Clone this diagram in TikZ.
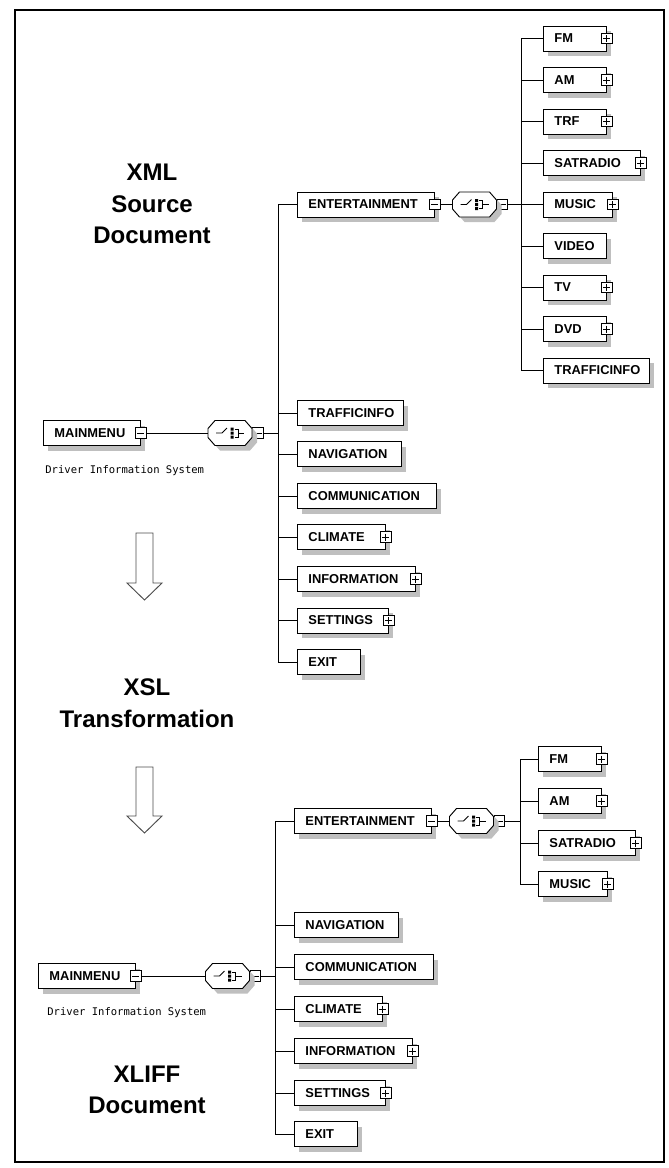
\documentclass[tikz,border=0pt]{standalone}
\usepackage{fontspec}
\setmainfont{Liberation Sans}
\newfontfamily\descfont{DejaVu Sans Mono}
\usetikzlibrary{shadows}

\tikzset{
	boxshadow/.style={drop shadow={shadow xshift=0.15cm, shadow yshift=-0.15cm, fill=black!25, opacity=1}},
	elem/.style={draw, fill=white, anchor=west, inner xsep=0pt, inner ysep=0pt,
		minimum height=0.75cm, text width=#1*0.03cm, align=left,
		font=\fontsize{11pt}{13pt}\selectfont\bfseries,
		execute at begin node={\hspace*{0.33cm}}, boxshadow},
	sqbox/.style={draw, fill=white, minimum size=0.31cm, inner sep=0pt},
	minusbox/.style={sqbox, path picture={
		\draw ([xshift=0.05cm]path picture bounding box.west) -- ([xshift=-0.05cm]path picture bounding box.east);}},
	plusbox/.style={sqbox, path picture={
		\draw ([xshift=0.05cm]path picture bounding box.west) -- ([xshift=-0.05cm]path picture bounding box.east);
		\draw ([yshift=-0.05cm]path picture bounding box.north) -- ([yshift=0.05cm]path picture bounding box.south);}},
	choice/.style={rectangle, minimum width=1.32cm, minimum height=0.75cm, inner sep=0pt},
	desc/.style={anchor=west, font=\descfont\fontsize{9pt}{11pt}\selectfont},
	title/.style={align=center, font=\fontsize{20.5pt}{27pt}\selectfont\bfseries},
	hollow/.style={draw=black!70, line width=0.8pt, fill=white},
}

\begin{document}
\begin{tikzpicture}[x=0.03cm, y=-0.03cm, line width=0.8pt]

	\useasboundingbox (0,0) rectangle (669,1168);

	%Frame
	\draw[line width=1.7pt] (15,10) rectangle (664,1162);

	%Titles
	\node[title] (srcTitle) at (152,204) {XML\\Source\\Document};
	\node[title] (xslTitle) at (147,703) {XSL\\Transformation};
	\node[title] (xlfTitle) at (147,1090) {XLIFF\\Document};

	%Arrows
	\draw[hollow] (136,533) -- (153,533) -- (153,583) -- (162,583) -- (144.5,600) -- (127,583) -- (136,583) -- cycle;
	\draw[hollow] (136,767) -- (153,767) -- (153,816) -- (162,816) -- (144.5,833) -- (127,816) -- (136,816) -- cycle;

	%Source document: root
	\node[elem=97] (sMain) at (43,433) {MAINMENU};
	\node[minusbox] (sMainSq) at (sMain.east) {};
	\node[desc] (sDesc) at (41,471) {Driver Information System};
	\node[choice] (sMainCh) at (230,433) {};
	\node[minusbox, anchor=west] (sMainChSq) at (sMainCh.east) {};
	\coordinate (sBar) at (278,433);

	%Source document: menu entries
	\node[elem=137] (sEnt) at (297,204.5) {ENTERTAINMENT};
	\node[elem=106] (sTraf) at (297,413) {TRAFFICINFO};
	\node[elem=104] (sNav) at (297,454) {NAVIGATION};
	\node[elem=139] (sCom) at (297,496) {COMMUNICATION};
	\node[elem=88] (sCli) at (297,537) {CLIMATE};
	\node[elem=118] (sInf) at (297,579) {INFORMATION};
	\node[elem=91] (sSet) at (297,620.5) {SETTINGS};
	\node[elem=63] (sExit) at (297,662) {EXIT};
	\node[minusbox] (sEntSq) at (sEnt.east) {};
	\foreach \n in {sCli,sInf,sSet}
		\node[plusbox] (\n Sq) at (\n.east) {};

	\node[choice] (sEntCh) at (474.5,204.5) {};
	\node[minusbox, anchor=west] (sEntChSq) at (sEntCh.east) {};
	\coordinate (sEntBar) at (521,204.5);

	%Source document: entertainment
	\node[elem=63] (sFM) at (543,38.5) {FM};
	\node[elem=63] (sAM) at (543,80) {AM};
	\node[elem=63] (sTRF) at (543,121.5) {TRF};
	\node[elem=97] (sSat) at (543,163) {SATRADIO};
	\node[elem=69] (sMus) at (543,204.5) {MUSIC};
	\node[elem=63] (sVid) at (543,246) {VIDEO};
	\node[elem=63] (sTV) at (543,287.5) {TV};
	\node[elem=63] (sDVD) at (543,329) {DVD};
	\node[elem=106] (sTrafB) at (543,370.5) {TRAFFICINFO};
	\foreach \n in {sFM,sAM,sTRF,sSat,sMus,sTV,sDVD}
		\node[plusbox] (\n Sq) at (\n.east) {};

	%XLIFF document: root
	\node[elem=97] (xMain) at (38,976) {MAINMENU};
	\node[minusbox] (xMainSq) at (xMain.east) {};
	\node[desc] (xDesc) at (43,1013) {Driver Information System};
	\node[choice] (xMainCh) at (227.5,976) {};
	\node[minusbox, anchor=west] (xMainChSq) at (xMainCh.east) {};
	\coordinate (xBar) at (275,976);

	%XLIFF document: menu entries
	\node[elem=137] (xEnt) at (294,821) {ENTERTAINMENT};
	\node[elem=104] (xNav) at (294,925) {NAVIGATION};
	\node[elem=139] (xCom) at (294,967) {COMMUNICATION};
	\node[elem=88] (xCli) at (294,1009) {CLIMATE};
	\node[elem=118] (xInf) at (294,1051) {INFORMATION};
	\node[elem=91] (xSet) at (294,1093) {SETTINGS};
	\node[elem=63] (xExit) at (294,1134) {EXIT};
	\node[minusbox] (xEntSq) at (xEnt.east) {};
	\foreach \n in {xCli,xInf,xSet}
		\node[plusbox] (\n Sq) at (\n.east) {};

	\node[choice] (xEntCh) at (471.5,821) {};
	\node[minusbox, anchor=west] (xEntChSq) at (xEntCh.east) {};
	\coordinate (xEntBar) at (520,821);

	%XLIFF document: entertainment
	\node[elem=63] (xFM) at (538,759) {FM};
	\node[elem=63] (xAM) at (538,801) {AM};
	\node[elem=97] (xSat) at (538,843) {SATRADIO};
	\node[elem=69] (xMus) at (538,884) {MUSIC};
	\foreach \n in {xFM,xAM,xSat,xMus}
		\node[plusbox] (\n Sq) at (\n.east) {};

	%Choice symbols
	\foreach \n in {sMainCh,sEntCh,xMainCh,xEntCh}{
		\begin{scope}[shift={(\n.center)}]
			\draw[fill=white, boxshadow] (-15,-12.5) -- (15,-12.5) -- (22,-4.5) -- (22,4.5) -- (15,12.5)
				-- (-15,12.5) -- (-22,4.5) -- (-22,-4.5) -- cycle;
			\draw (-14,0) -- (-8,0) -- (-3,-5);
			\fill (0.5,-5.5) rectangle (3.5,-2.5) (0.5,-1.5) rectangle (3.5,1.5) (0.5,2.5) rectangle (3.5,5.5);
			\draw (4.5,-4) -- (8,-4) -- (8,4) -- (4.5,4) (8,0) -- (14,0);
		\end{scope}
	}

	%Source document: connectors
	\draw (sMainSq) -- (sMainCh);
	\draw (sMainChSq) -- (sBar);
	\draw (sBar |- sEnt.west) -- (sBar |- sExit.west);
	\foreach \n in {sEnt,sTraf,sNav,sCom,sCli,sInf,sSet,sExit}
		\draw (sBar |- \n.west) -- (\n.west);
	\draw (sEntSq) -- (sEntCh);
	\draw (sEntChSq) -- (sEntBar);
	\draw (sEntBar |- sFM.west) -- (sEntBar |- sTrafB.west);
	\foreach \n in {sFM,sAM,sTRF,sSat,sMus,sVid,sTV,sDVD,sTrafB}
		\draw (sEntBar |- \n.west) -- (\n.west);

	%XLIFF document: connectors
	\draw (xMainSq) -- (xMainCh);
	\draw (xMainChSq) -- (xBar);
	\draw (xBar |- xEnt.west) -- (xBar |- xExit.west);
	\foreach \n in {xEnt,xNav,xCom,xCli,xInf,xSet,xExit}
		\draw (xBar |- \n.west) -- (\n.west);
	\draw (xEntSq) -- (xEntCh);
	\draw (xEntChSq) -- (xEntBar);
	\draw (xEntBar |- xFM.west) -- (xEntBar |- xMus.west);
	\foreach \n in {xFM,xAM,xSat,xMus}
		\draw (xEntBar |- \n.west) -- (\n.west);

\end{tikzpicture}
\end{document}
